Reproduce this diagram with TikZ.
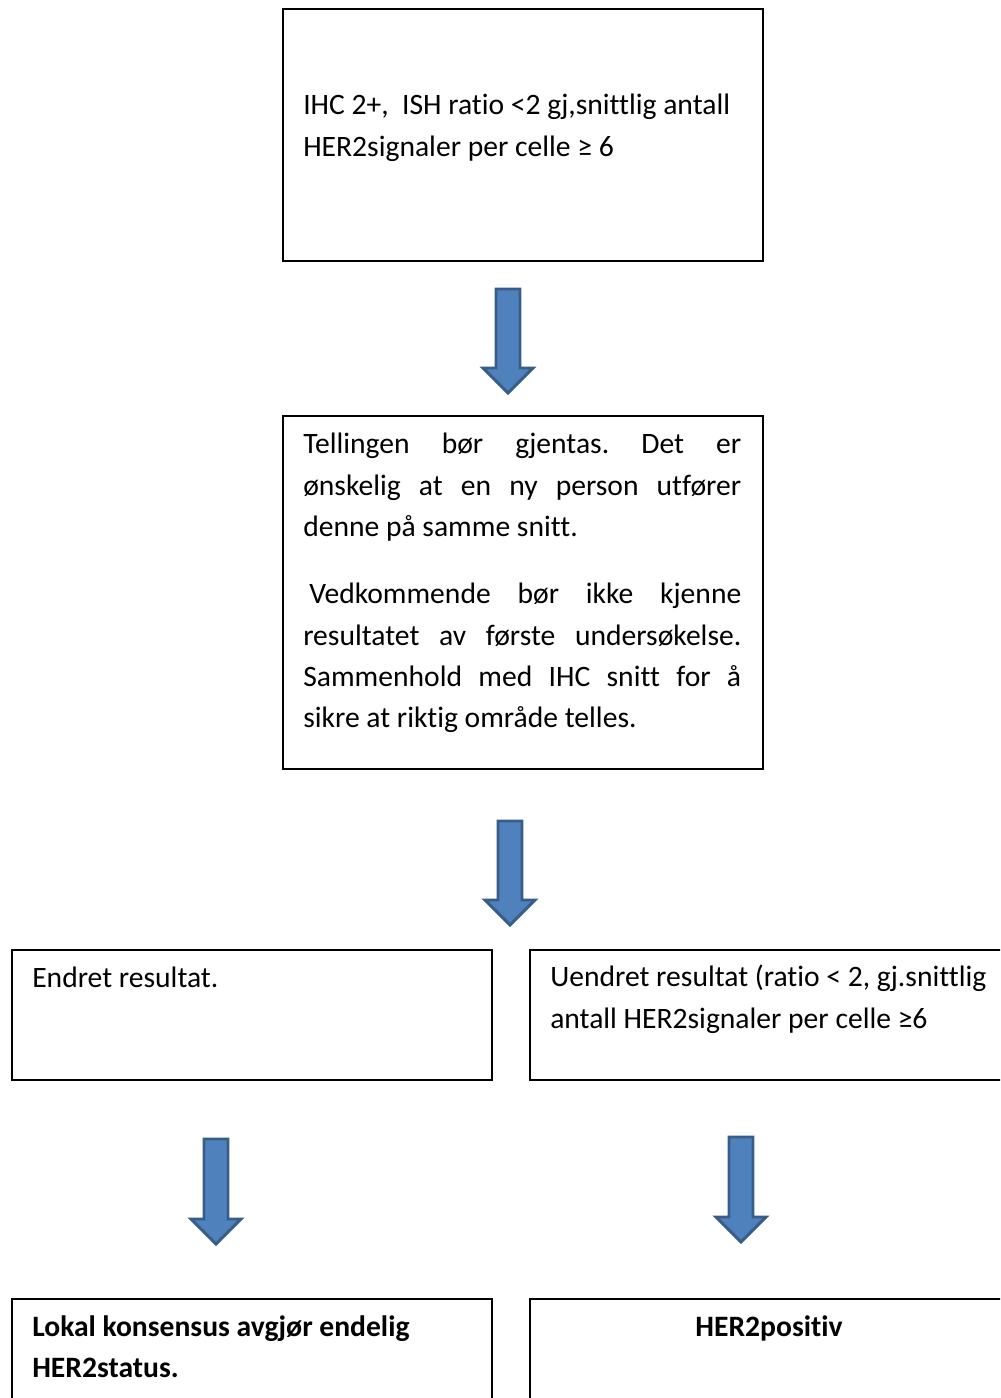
\documentclass[tikz,border=0pt]{standalone}
\usepackage{fontspec}
\setmainfont{Carlito}[Ligatures=CommonOff]
\frenchspacing
\definecolor{arrfill}{HTML}{4F81BD}
\definecolor{arrline}{HTML}{385D8A}
\tikzset{
  box/.style={draw=black, line width=1.4pt, fill=white, inner sep=0pt, anchor=north west},
  txt/.style={anchor=base west, inner sep=0pt, font=\fontsize{22.2}{30}\selectfont},
  btxt/.style={txt, font=\fontsize{22.2}{30}\selectfont\bfseries},
  blockarrow/.style={draw=arrline, fill=arrfill, line width=2.2pt, line join=miter}
}
\newcommand{\jline}[2]{\makebox[#1][s]{#2}}
\begin{document}
\begin{tikzpicture}[x=0.75pt, y=-0.75pt]
\useasboundingbox (0,0) rectangle (1000,1398);
\clip (0,0) rectangle (1000,1398);
% boxes
\node[box, minimum width=360pt, minimum height=189pt] (b1) at (282,8) {};
\node[box, minimum width=360pt, minimum height=264.75pt] (b2) at (282,415) {};
\node[box, minimum width=360pt, minimum height=97.5pt] (b3) at (11,949) {};
\node[box, minimum width=360pt, minimum height=97.5pt] (b4) at (529,949) {};
\node[box, minimum width=360pt, minimum height=97.5pt] (b5) at (11,1298) {};
\node[box, minimum width=360pt, minimum height=97.5pt] (b6) at (529,1298) {};
% texts
\node[txt] (t1a) at (303,115) {IHC 2+,\ \ ISH ratio <2 gj,snittlig antall};
\node[txt] (t1b) at (303,157) {HER2signaler per celle ≥ 6};
\node[txt] (t2a) at (303,453) {\jline{328.5pt}{Tellingen bør gjentas. Det er}};
\node[txt] (t2b) at (303,495) {\jline{328.5pt}{ønskelig at en ny person utfører}};
\node[txt] (t2c) at (303,536) {denne på samme snitt.};
\node[txt] (t2d) at (309,603) {\jline{324pt}{Vedkommende bør ikke kjenne}};
\node[txt] (t2e) at (303,645) {\jline{328.5pt}{resultatet av første undersøkelse.}};
\node[txt] (t2f) at (303,686) {\jline{328.5pt}{Sammenhold med IHC snitt for å}};
\node[txt] (t2g) at (303,727) {sikre at riktig område telles.};
\node[txt] (t3) at (32,987) {Endret resultat.};
\node[txt] (t4a) at (550,986) {Uendret resultat (ratio < 2, gj.snittlig};
\node[txt] (t4b) at (550,1028) {antall HER2signaler per celle ≥6};
\node[btxt] (t5a) at (32,1336) {Lokal konsensus avgjør endelig};
\node[btxt] (t5b) at (32,1377) {HER2status.};
\node[btxt, anchor=base] (t6) at (769,1336) {HER2positiv};
% block arrows
\draw[blockarrow] (496,289) -- (520,289) -- (520,368) -- (533,368) -- (508,393) -- (483,368) -- (496,368) -- cycle;
\draw[blockarrow] (498,821) -- (522,821) -- (522,900) -- (535,900) -- (510,925) -- (485,900) -- (498,900) -- cycle;
\draw[blockarrow] (204,1139) -- (228,1139) -- (228,1219) -- (241,1219) -- (216,1244) -- (191,1219) -- (204,1219) -- cycle;
\draw[blockarrow] (729,1137) -- (753,1137) -- (753,1217) -- (766,1217) -- (741,1242) -- (716,1217) -- (729,1217) -- cycle;
\end{tikzpicture}
\end{document}
